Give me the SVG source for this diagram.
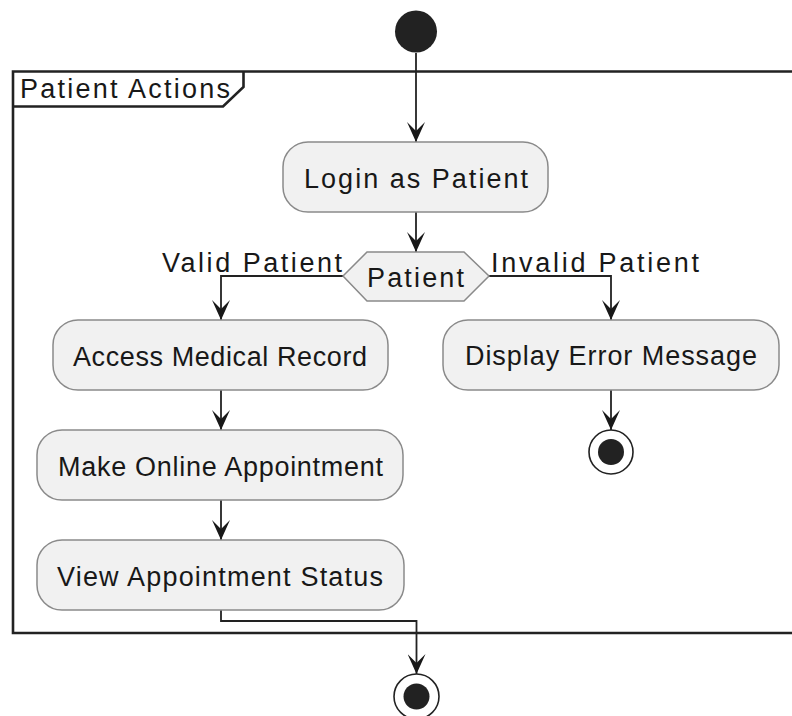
<svg xmlns="http://www.w3.org/2000/svg" width="792" height="716" viewBox="0 0 792 716">
<style>
text{font-family:"Liberation Sans",Arial,sans-serif;font-size:27px;fill:#181818}
.act{fill:#f1f1f1;stroke:#8a8a8a;stroke-width:1.5}
.edge{fill:none;stroke:#222;stroke-width:1.8}
.frame{fill:none;stroke:#222;stroke-width:2.6}
</style>
<defs>
<marker id="ah" viewBox="0 0 20 18" markerWidth="20" markerHeight="18" refX="20" refY="9" orient="auto" markerUnits="userSpaceOnUse">
<path d="M0,0 L20,9 L0,18 L9,9 Z" fill="#181818"/>
</marker>
</defs>
<rect width="792" height="716" fill="#fff"/>
<g id="frame">
<path class="frame" d="M800,71.5 H13 V633 H800"/>
<path class="frame" d="M13,106.5 H223 L243.5,87 V71.5"/>
<text x="20" y="98" textLength="210" lengthAdjust="spacing">Patient Actions</text>
</g>
<g id="connectors">
<path class="edge" d="M416,53 V142" marker-end="url(#ah)"/>
<path class="edge" d="M416,212 V252" marker-end="url(#ah)"/>
<path class="edge" d="M343,276 H221 V320" marker-end="url(#ah)"/>
<path class="edge" d="M489,276 H611 V320" marker-end="url(#ah)"/>
<path class="edge" d="M221,390 V430" marker-end="url(#ah)"/>
<path class="edge" d="M221,500 V540" marker-end="url(#ah)"/>
<path class="edge" d="M611,390 V430" marker-end="url(#ah)"/>
<path class="edge" d="M221,610 V621 H416.5 V674" marker-end="url(#ah)"/>
<text x="162" y="272" textLength="180" lengthAdjust="spacing">Valid Patient</text>
<text x="491" y="272" textLength="208" lengthAdjust="spacing">Invalid Patient</text>
</g>
<g id="start">
<circle cx="416" cy="31.5" r="21" fill="#222"/>
</g>
<g id="login">
<rect class="act" x="283" y="142" width="265" height="70" rx="25" ry="25"/>
<text x="304" y="188" textLength="224" lengthAdjust="spacing">Login as Patient</text>
</g>
<g id="decision">
<polygon class="act" points="343,276 367,252 464,252 489,276 464,301 367,301"/>
<text x="367" y="287" textLength="97" lengthAdjust="spacing">Patient</text>
</g>
<g id="access">
<rect class="act" x="53" y="320" width="335" height="70" rx="25" ry="25"/>
<text x="73" y="366" textLength="294" lengthAdjust="spacing">Access Medical Record</text>
</g>
<g id="display">
<rect class="act" x="443" y="320" width="336" height="70" rx="25" ry="25"/>
<text x="465" y="365" textLength="292" lengthAdjust="spacing">Display Error Message</text>
</g>
<g id="end1">
<circle cx="611" cy="452" r="22" fill="#fff" stroke="#222" stroke-width="1.6"/>
<circle cx="611" cy="452" r="13" fill="#222"/>
</g>
<g id="make">
<rect class="act" x="37" y="430" width="366" height="70" rx="25" ry="25"/>
<text x="58" y="476" textLength="325" lengthAdjust="spacing">Make Online Appointment</text>
</g>
<g id="view">
<rect class="act" x="37" y="540" width="367" height="70" rx="25" ry="25"/>
<text x="57" y="586" textLength="326" lengthAdjust="spacing">View Appointment Status</text>
</g>
<g id="end2">
<circle cx="416.5" cy="696.5" r="22.5" fill="#fff" stroke="#222" stroke-width="1.6"/>
<circle cx="416.5" cy="696.5" r="13" fill="#222"/>
</g>
</svg>
